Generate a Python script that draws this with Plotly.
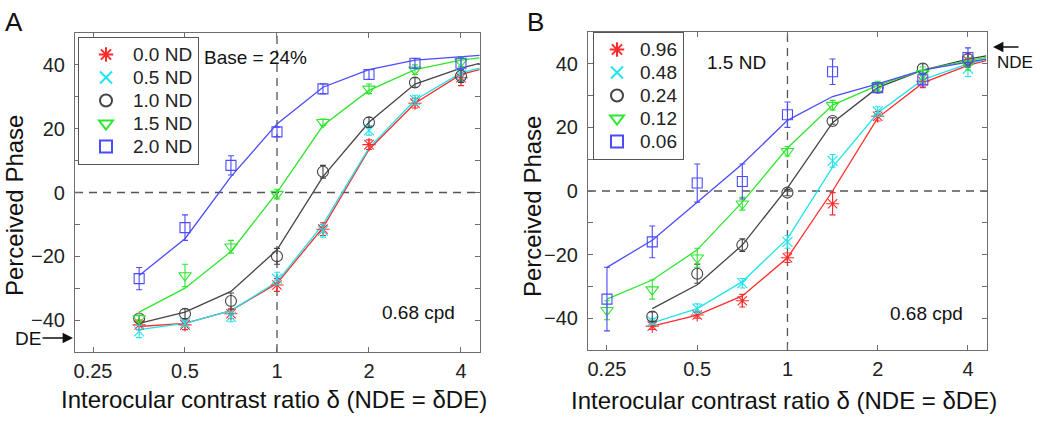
import plotly.graph_objects as go
import math

# ---------------- data ----------------
X = [0.354, 0.5, 0.707, 1.0, 1.414, 2.0, 2.828, 4.0]
X_LOW = [0.25, 0.354, 0.5, 0.707, 1.0, 1.414, 2.0, 2.828, 4.0]
FIT_X = [0.354, 0.5, 0.707, 1.0, 1.414, 2.0, 2.828, 4.0, 4.6]
FIT_X_LOW = [0.25, 0.354, 0.5, 0.707, 1.0, 1.414, 2.0, 2.828, 4.0, 4.6]

# Panel A (Base = 24%)
A_labels = ["0.0 ND", "0.5 ND", "1.0 ND", "1.5 ND", "2.0 ND"]
A_red = [-41.5, -41.5, -38, -29, -11.5, 15, 28, 36]
A_red_err = [1.5, 1.5, 1.5, 2, 2, 1.5, 1.5, 2.5]
A_red_fit = [-42, -41, -37, -28.5, -11, 13.5, 28, 37, 38.5]
A_cyan = [-43.5, -41, -39, -27, -12, 19.5, 29, 37]
A_cyan_err = [2, 1, 1.5, 2, 2, 1.5, 1.5, 2]
A_cyan_fit = [-43, -41, -37, -28, -10, 14, 29, 37.5, 39]
A_black = [-39.5, -38, -34, -20, 6.5, 22, 34.5, 36.5]
A_black_err = [1, 1.5, 2.5, 2.5, 2, 1.5, 1.5, 2]
A_black_fit = [-41, -37.5, -31, -18, 5, 22, 34, 39, 40.5]
A_green = [-39.5, -26, -17, -0.5, 22, 32.5, 38.5, 41]
A_green_err = [1, 3.5, 2, 1.5, 1, 1.5, 1.5, 1.5]
A_green_fit = [-37.5, -30, -18.5, 0, 21, 32, 38.5, 41.5, 42.2]
A_blue = [-27, -11, 8.5, 19, 32.5, 37, 40.5, 40.5]
A_blue_err = [3.5, 4, 3, 1.5, 1.5, 1.5, 1.5, 2]
A_blue_fit = [-26, -14.5, 5, 21.5, 33, 38.5, 41.5, 42.5, 43]

# Panel B (1.5 ND)
B_labels = ["0.96", "0.48", "0.24", "0.12", "0.06"]
B_red = [-42.5, -39, -34.5, -21, -4, 23.5, 34.5, 41]
B_red_err = [1, 1, 2, 1.5, 3.5, 1.5, 2, 2]
B_red_fit = [-42.5, -39, -33, -21, 0, 23, 34, 39.5, 41]
B_cyan = [-41, -37, -29, -16, 9.5, 25, 36, 38.5]
B_cyan_err = [1, 1.5, 1.5, 2, 2, 1.5, 2, 2.5]
B_cyan_fit = [-41.5, -37, -28.5, -15, 7.5, 24.5, 35, 40, 41.5]
B_black = [-39.5, -26, -17, -0.5, 22, 32.5, 38.5, 41.5]
B_black_err = [1.5, 3, 2, 1, 1, 1.5, 1.5, 2]
B_black_fit = [-37, -29.5, -17, 1, 21.5, 32.5, 38, 41.5, 42.5]
B_green = [-37.5, -31, -21, -4, 12.5, 27, 33, 37, 40]
B_green_err = [3, 3, 3, 2, 1.5, 1.5, 1.5, 2, 2]
B_green_fit = [-34, -28, -18.5, -3.5, 13.5, 27, 33.2, 38, 41, 42]
B_blue = [-34, -16, 2.5, 3, 24, 37.5, 32.5, 35, 42]
B_blue_err = [10, 5, 6, 5.5, 4, 4, 1.5, 2, 3]
B_blue_fit = [-24, -15.5, -3.5, 8.5, 22.2, 29.7, 33.7, 38, 40.5, 41.5]

RED = "#ff2b2b"
CYAN = "#1fe3ee"
BLACK = "#444444"
GREEN = "#2ee62e"
BLUE = "#4b4bff"

SYMBOLS = ["asterisk-open", "x-thin-open", "circle-open", "triangle-down-open", "square-open"]
SIZES = [11, 10, 11, 11, 10]
COLORS = [RED, CYAN, BLACK, GREEN, BLUE]

fig = go.Figure()

def add_panel(xa, ya, legend, labels, series):
    for i, (xd, yd, err, xf, yf) in enumerate(series):
        fig.add_trace(go.Scatter(
            x=xf, y=yf, mode="lines", xaxis=xa, yaxis=ya,
            line=dict(color=COLORS[i], width=1.3), showlegend=False, hoverinfo="skip"))
    for i, (xd, yd, err, xf, yf) in enumerate(series):
        fig.add_trace(go.Scatter(
            x=xd, y=yd, mode="markers", xaxis=xa, yaxis=ya,
            name='<span style="font-size:19px">' + labels[i] + '</span>',
            legend=legend,
            marker=dict(symbol=SYMBOLS[i], size=SIZES[i], color=COLORS[i],
                        line=dict(color=COLORS[i], width=1.1)),
            error_y=dict(type="data", array=err, visible=True, color=COLORS[i],
                         thickness=1.1, width=3)))

add_panel("x", "y", "legend", A_labels, [
    (X, A_red, A_red_err, FIT_X, A_red_fit),
    (X, A_cyan, A_cyan_err, FIT_X, A_cyan_fit),
    (X, A_black, A_black_err, FIT_X, A_black_fit),
    (X, A_green, A_green_err, FIT_X, A_green_fit),
    (X, A_blue, A_blue_err, FIT_X, A_blue_fit),
])
add_panel("x2", "y2", "legend2", B_labels, [
    (X, B_red, B_red_err, FIT_X, B_red_fit),
    (X, B_cyan, B_cyan_err, FIT_X, B_cyan_fit),
    (X, B_black, B_black_err, FIT_X, B_black_fit),
    (X_LOW, B_green, B_green_err, FIT_X_LOW, B_green_fit),
    (X_LOW, B_blue, B_blue_err, FIT_X_LOW, B_blue_fit),
])

W, H = 1050, 422
FONT = "Liberation Sans, Arial, sans-serif"
AX_COL = "#6e6e6e"

xcommon = dict(type="log", tickvals=[0.25, 0.5, 1, 2, 4], ticktext=["0.25", "0.5", "1", "2", "4"],
               ticks="inside", ticklen=5, tickcolor=AX_COL, showline=True, linecolor=AX_COL,
               linewidth=1.2, mirror="ticks", showgrid=False, zeroline=False,
               tickfont=dict(size=20, color="#222", family=FONT), ticklabelstandoff=1)
ycommon = dict(range=[-50, 50], tickvals=[-40, -20, 0, 20, 40],
               ticktext=["\u221240", "\u221220", "0", "20", "40"],
               ticks="inside", ticklen=5, tickcolor=AX_COL, showline=True, linecolor=AX_COL,
               linewidth=1.2, mirror="ticks", showgrid=False, zeroline=False,
               minor=dict(dtick=10, ticks="inside", ticklen=5, tickcolor=AX_COL, showgrid=False),
               tickfont=dict(size=20, color="#222", family=FONT), ticklabelstandoff=5)

legend_common = dict(xanchor="left", yanchor="top", bgcolor="white", bordercolor="#555",
                     borderwidth=1, font=dict(size=15.4, family=FONT, color="#222"),
                     itemsizing="constant", tracegroupgap=0)
fig.update_layout(
    width=W, height=H, margin=dict(l=0, r=0, t=0, b=0),
    paper_bgcolor="white", plot_bgcolor="white",
    font=dict(family=FONT, color="#222"),
    xaxis=dict(domain=[75 / W, 480 / W], range=[math.log10(0.2183), math.log10(4.616)], anchor="y", **xcommon),
    yaxis=dict(domain=[1 - 352 / H, 1 - 33 / H], anchor="x", **ycommon),
    xaxis2=dict(domain=[588 / W, 987 / W], range=[math.log10(0.2161), math.log10(4.63)], anchor="y2", **xcommon),
    yaxis2=dict(domain=[1 - 350 / H, 1 - 32 / H], anchor="x2", **ycommon),
    legend=dict(x=78 / W, y=1 - 37 / H, itemwidth=44, **legend_common),
    legend2=dict(x=593 / W, y=1 - 32 / H, itemwidth=36, **legend_common),
)

dash = dict(color="#555", width=1.3, dash="8px,6px")
for xr, yr in [("x", "y"), ("x2", "y2")]:
    fig.add_shape(type="line", xref=xr, yref=yr + " domain", x0=1, x1=1, y0=0, y1=1, line=dash, layer="below")
    fig.add_shape(type="line", xref=xr + " domain", yref=yr, x0=0, x1=1, y0=0, y1=0, line=dash, layer="below")

def txt(x, y, s, size, xanchor="center", **kw):
    fig.add_annotation(x=x / W, y=1 - y / H, xref="paper", yref="paper", text=s, showarrow=False,
                       xanchor=xanchor, yanchor="middle",
                       font=dict(size=size, family=FONT, color="#111"), **kw)

txt(3, 22, "A", 26, xanchor="left")
txt(525, 22, "B", 26, xanchor="left")
txt(202, 58, "Base = 24%", 19, xanchor="left")
txt(380, 312, "0.68 cpd", 19, xanchor="left")
txt(705, 63, "1.5 ND", 19, xanchor="left")
txt(888, 313, "0.68 cpd", 19, xanchor="left")
txt(14, 206, "Perceived Phase", 24, textangle=-90)
txt(532, 207, "Perceived Phase", 24, textangle=-90)
txt(274, 399, "Interocular contrast ratio \u03b4 (NDE = \u03b4DE)", 24)
txt(784, 400, "Interocular contrast ratio \u03b4 (NDE = \u03b4DE)", 24)
txt(1015, 63, "NDE", 17)

# arrows
fig.add_annotation(x=73 / W, y=1 - 338 / H, xref="paper", yref="paper", text="DE", ax=-45, ay=0,
                   showarrow=True, arrowhead=2, arrowsize=1.3, arrowwidth=1.6, arrowcolor="#111",
                   font=dict(size=19, family=FONT, color="#111"))
fig.add_annotation(x=993 / W, y=1 - 47 / H, xref="paper", yref="paper", text=" ", ax=28, ay=0,
                   showarrow=True, arrowhead=2, arrowsize=1.3, arrowwidth=1.6, arrowcolor="#111",
                   font=dict(size=6, family=FONT, color="#111"))

fig.write_html("out.html", config={"displayModeBar": False},
               post_script="document.body.style.margin='0';document.body.style.overflow='hidden';")
